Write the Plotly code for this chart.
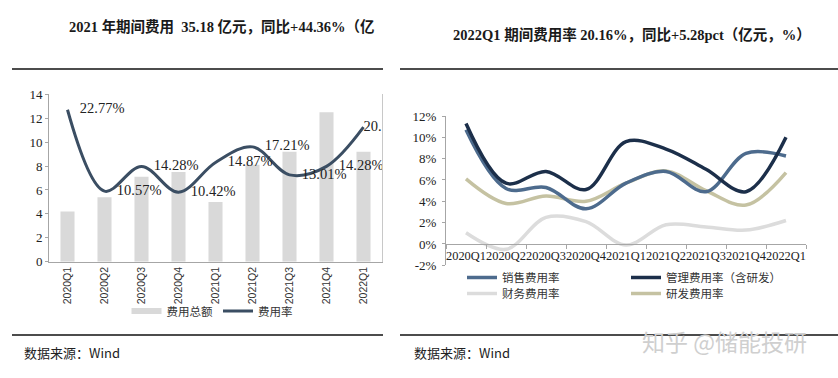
import plotly.graph_objects as go

W, H = 838, 378


def px(x):
    return x / W


def py(y):
    return 1 - y / H


# ---------------- data ----------------
quarters = ["2020Q1", "2020Q2", "2020Q3", "2020Q4", "2021Q1",
            "2021Q2", "2021Q3", "2021Q4", "2022Q1"]
expense_total = [4.2, 5.4, 7.1, 7.5, 5.0, 8.1, 9.2, 12.5, 9.2]          # 亿元
expense_rate = [22.77, 10.57, 14.28, 10.42, 14.87, 17.21, 13.01, 14.28, 20.16]  # %

selling_rate = [10.7, 5.2, 5.3, 3.3, 5.7, 6.8, 4.9, 8.5, 8.25]
admin_rate = [11.3, 5.7, 6.8, 5.1, 9.6, 8.9, 7.0, 4.9, 10.0]
finance_rate = [1.05, -0.5, 2.5, 2.1, -0.1, 1.8, 1.6, 1.3, 2.2]
rnd_rate = [6.1, 3.8, 4.5, 4.0, 5.7, 6.85, 5.0, 3.65, 6.7]

left_y_ticks = [0, 2, 4, 6, 8, 10, 12, 14]
right_y_ticks = [-2, 0, 2, 4, 6, 8, 10, 12]
right_y_labels = ["-2%", "0%", "2%", "4%", "6%", "8%", "10%", "12%"]

SERIF = "Liberation Serif, Times New Roman, Noto Sans CJK SC, serif"
SANS = "Liberation Sans, Arial, sans-serif"
CJK = "Noto Sans CJK SC, sans-serif"

fig = go.Figure()

# ---------------- left chart ----------------
fig.add_trace(go.Bar(
    x=quarters, y=expense_total, name="费用总额",
    marker=dict(color="#d9d9d9", line=dict(width=0)),
    width=0.38, xaxis="x", yaxis="y", showlegend=False,
))
# legend swatch for the bar series (wide grey bar like the original)
fig.add_trace(go.Scatter(
    x=[None], y=[None], mode="lines", name="费用总额",
    line=dict(color="#d9d9d9", width=6), xaxis="x", yaxis="y",
    legend="legend",
))
# invisible markers only serve to offset the value labels from the line
label_offsets = [18] * (len(quarters) - 1) + [0]
fig.add_trace(go.Scatter(
    x=quarters, y=expense_rate, name="费用率",
    mode="lines+markers+text",
    line=dict(color="#3b4e63", width=3, shape="spline", smoothing=1.0),
    marker=dict(size=label_offsets, color="rgba(0,0,0,0)", line=dict(width=0)),
    texttemplate="%{y:.2f}%", textposition="middle right",
    textfont=dict(family=SERIF, size=14.5, color="#222"),
    cliponaxis=True, xaxis="x", yaxis="y2", legend="legend",
))

# ---------------- right chart ----------------
right_series = [
    ("销售费用率", selling_rate, "#4d6b8d", "legend2"),
    ("管理费用率（含研发）", admin_rate, "#1c2f4a", "legend3"),
    ("财务费用率", finance_rate, "#dcdcdc", "legend4"),
    ("研发费用率", rnd_rate, "#c5c2a2", "legend5"),
]
order = [2, 3, 0, 1]  # draw order: finance, rnd, selling, admin
for i in order:
    name, vals, col, lg = right_series[i]
    fig.add_trace(go.Scatter(
        x=quarters, y=vals, name=name, mode="lines",
        line=dict(color=col, width=3.5, shape="spline", smoothing=1.0),
        xaxis="x2", yaxis="y3", legend=lg,
    ))

# ---------------- axes ----------------
L_x0, L_x1, L_ytop, L_ybot = 49, 382, 94.3, 261.7
R_x0, R_x1, R_ytop, R_ybot = 446, 806, 116, 265.3
R_zero = 244

axis_grey = "#a6a6a6"
fig.update_layout(
    width=W, height=H,
    margin=dict(l=0, r=0, t=0, b=0, pad=0, autoexpand=False),
    paper_bgcolor="white", plot_bgcolor="rgba(0,0,0,0)",
    xaxis=dict(domain=[px(L_x0), px(L_x1)], anchor="y",
               range=[-0.5, len(quarters) - 0.5],
               showline=True, linecolor=axis_grey, linewidth=1,
               ticks="", tickangle=-90,
               tickfont=dict(family=SANS, size=10.5, color="#333"),
               showgrid=False, zeroline=False, automargin=False),
    yaxis=dict(domain=[py(L_ybot), py(L_ytop)], anchor="x",
               range=[0, 14], tickvals=left_y_ticks,
               showline=True, linecolor=axis_grey, linewidth=1,
               ticks="outside", ticklen=3, tickcolor=axis_grey,
               tickfont=dict(family=SERIF, size=13, color="#222"),
               showgrid=False, zeroline=False, automargin=False),
    yaxis2=dict(overlaying="y", side="right", anchor="x",
                range=[0, 14 / 0.558], showticklabels=False,
                showline=True, linecolor="#c8c8c8", linewidth=1,
                ticks="", showgrid=False, zeroline=False, automargin=False),
    xaxis2=dict(domain=[px(R_x0), px(R_x1)], anchor="free",
                position=py(R_zero),
                range=[-0.5, len(quarters) - 0.5],
                showline=True, linecolor=axis_grey, linewidth=1,
                ticks="outside", ticklen=4, tickcolor=axis_grey,
                tickson="boundaries", tickangle=0,
                tickfont=dict(family=SERIF, size=12.4, color="#222"),
                showgrid=False, zeroline=False, automargin=False),
    yaxis3=dict(domain=[py(R_ybot), py(R_ytop)], anchor="x2",
                range=[-2, 12], tickmode="array",
                tickvals=right_y_ticks, ticktext=right_y_labels,
                showline=True, linecolor=axis_grey, linewidth=1,
                ticks="outside", ticklen=3, tickcolor=axis_grey,
                ticklabelstandoff=3,
                tickfont=dict(family=SERIF, size=13, color="#222"),
                showgrid=False, zeroline=False, automargin=False),
)

legend_common = dict(bgcolor="rgba(0,0,0,0)", borderwidth=0,
                     font=dict(family=CJK, size=11.5, color="#333"),
                     itemwidth=30, tracegroupgap=0)
fig.update_layout(
    legend=dict(orientation="h", x=px(212), y=py(311), xanchor="center",
                yanchor="middle", **legend_common),
    legend2=dict(x=px(462), y=py(277.5), xanchor="left", yanchor="middle", **legend_common),
    legend3=dict(x=px(626), y=py(277.5), xanchor="left", yanchor="middle", **legend_common),
    legend4=dict(x=px(462), y=py(293.5), xanchor="left", yanchor="middle", **legend_common),
    legend5=dict(x=px(626), y=py(293.5), xanchor="left", yanchor="middle", **legend_common),
)

# ---------------- decoration ----------------
shapes = []
for (x0, x1, y) in [(12, 383, 69), (400, 838, 69), (12, 383, 335), (400, 838, 335)]:
    shapes.append(dict(type="line", xref="paper", yref="paper",
                       x0=px(x0), x1=px(x1), y0=py(y), y1=py(y),
                       line=dict(color="#111", width=1.5)))
fig.update_layout(shapes=shapes)

annotations = [
    dict(text="<b>2021 年期间费用  35.18 亿元，同比+44.36%（亿</b>",
         x=px(222), y=py(27), xanchor="center", yanchor="middle",
         font=dict(family=SERIF, size=14.5, color="#1a1a1a")),
    dict(text="<b>2022Q1 期间费用率 20.16%，同比+5.28pct（亿元，%）</b>",
         x=px(632), y=py(35), xanchor="center", yanchor="middle",
         font=dict(family=SERIF, size=14.5, color="#1a1a1a")),
    dict(text="数据来源：Wind", x=px(22), y=py(352), xanchor="left", yanchor="middle",
         font=dict(family=CJK, size=13, color="#222")),
    dict(text="数据来源：Wind", x=px(412), y=py(352), xanchor="left", yanchor="middle",
         font=dict(family=CJK, size=13, color="#222")),
    dict(text="知乎 @储能投研", x=px(724), y=py(341), xanchor="center", yanchor="middle",
         font=dict(family=CJK, size=23, color="#cfcfcf")),
]
for a in annotations:
    a.update(xref="paper", yref="paper", showarrow=False)
fig.update_layout(annotations=annotations)

fig.write_html("out.html",
               config={"displayModeBar": False},
               post_script="document.body.style.margin='0';document.body.style.overflow='hidden';")
